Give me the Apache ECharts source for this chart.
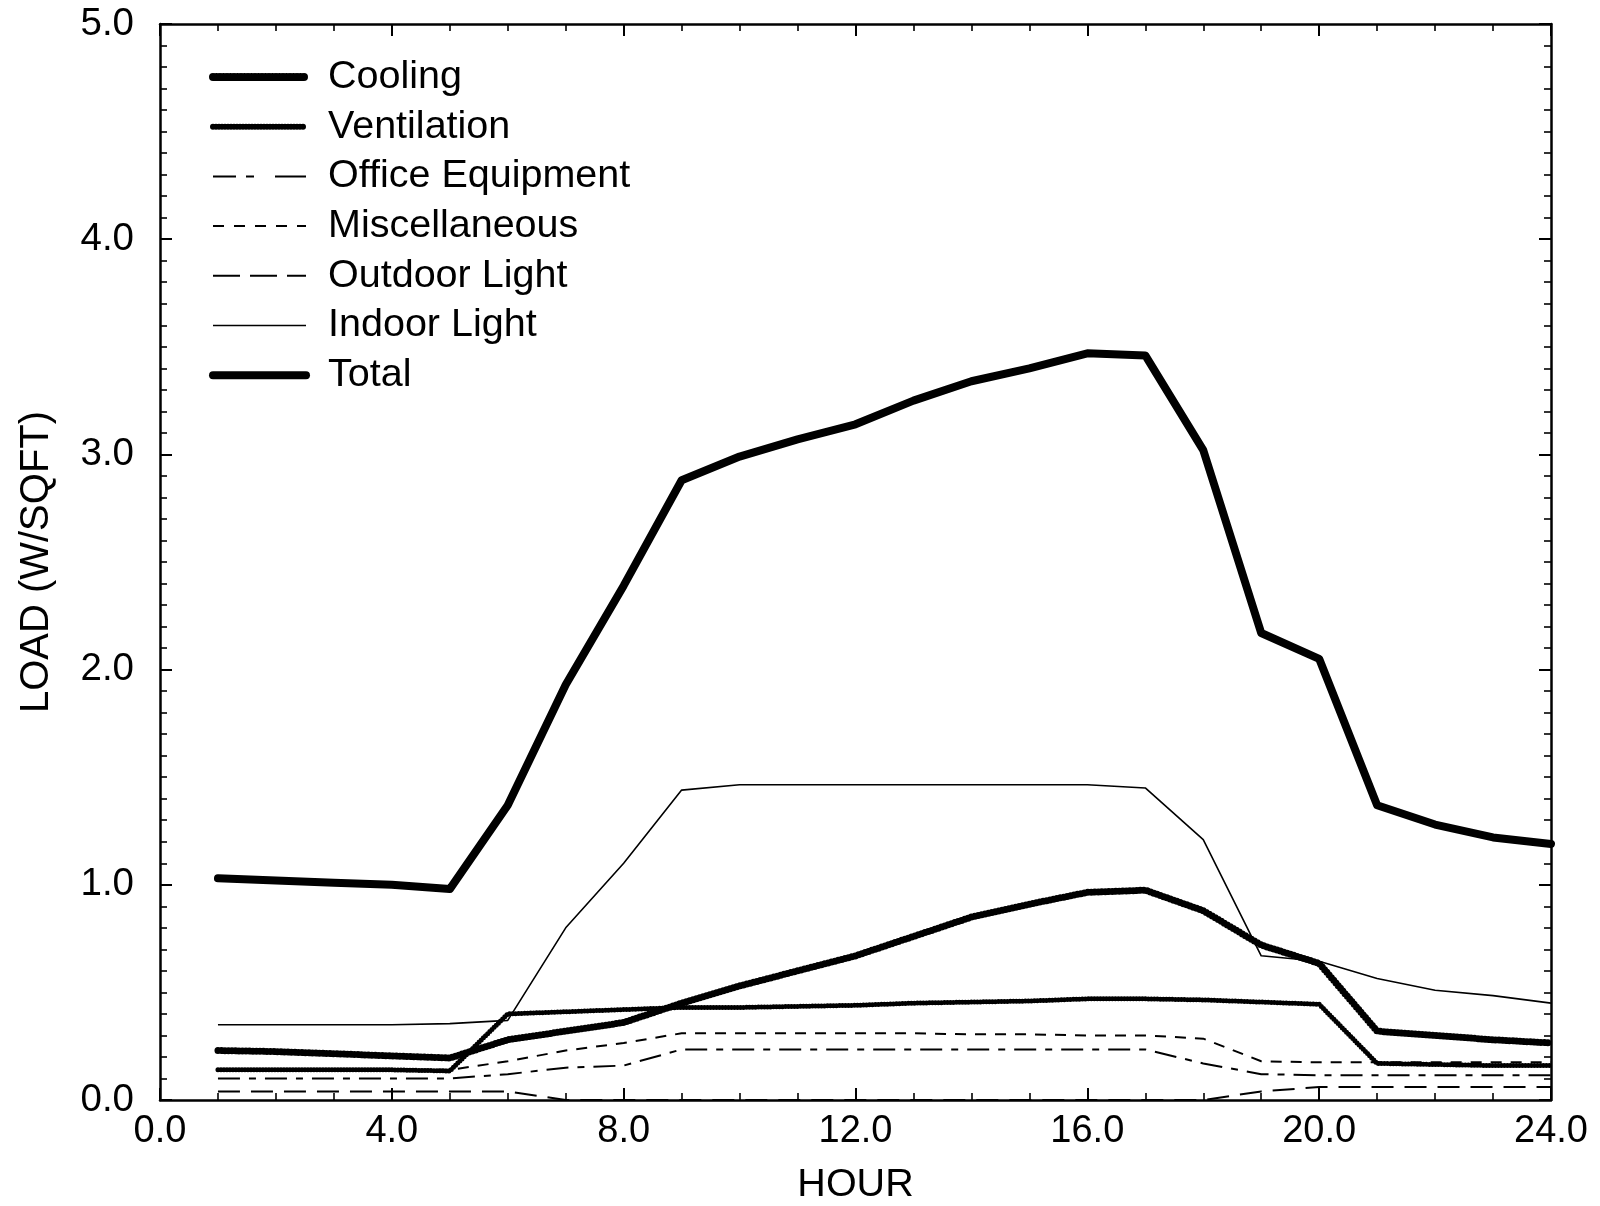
<!DOCTYPE html>
<html>
<head>
<meta charset="utf-8">
<script src="https://cdn.jsdelivr.net/npm/echarts@6/dist/echarts.min.js"></script>
<style>
html,body{margin:0;padding:0;background:#fff;}
#chart{width:1600px;height:1206px;}
</style>
</head>
<body>
<div id="chart"></div>
<script>
const hours = [1,2,3,4,5,6,7,8,9,10,11,12,13,14,15,16,17,18,19,20,21,22,23,24];
const seriesNames = ['Cooling','Ventilation','Office Equipment','Miscellaneous','Outdoor Light','Indoor Light','Total'];
const cooling      = [0.23,0.225,0.215,0.205,0.195,0.28,0.32,0.36,0.45,0.53,0.60,0.67,0.76,0.85,0.91,0.965,0.975,0.88,0.72,0.635,0.32,0.30,0.28,0.265];
const ventilation  = [0.14,0.14,0.14,0.14,0.135,0.40,0.41,0.42,0.43,0.43,0.435,0.44,0.45,0.455,0.46,0.47,0.47,0.465,0.455,0.445,0.17,0.165,0.16,0.16];
const officeEquip  = [0.10,0.10,0.10,0.10,0.10,0.12,0.15,0.16,0.235,0.235,0.235,0.235,0.235,0.235,0.235,0.235,0.235,0.17,0.12,0.115,0.115,0.115,0.115,0.115];
const misc         = [0.14,0.14,0.14,0.14,0.14,0.18,0.23,0.265,0.31,0.31,0.31,0.31,0.31,0.305,0.305,0.30,0.30,0.285,0.18,0.175,0.175,0.175,0.175,0.175];
const outdoorLight = [0.04,0.04,0.04,0.04,0.04,0.04,0.0,0.0,0.0,0.0,0.0,0.0,0.0,0.0,0.0,0.0,0.0,0.0,0.04,0.06,0.06,0.06,0.06,0.06];
const indoorLight  = [0.35,0.35,0.35,0.35,0.355,0.37,0.80,1.10,1.44,1.465,1.465,1.465,1.465,1.465,1.465,1.465,1.45,1.21,0.67,0.645,0.565,0.51,0.485,0.45];
const total        = [1.03,1.02,1.01,1.00,0.98,1.37,1.93,2.39,2.88,2.99,3.07,3.14,3.25,3.34,3.40,3.47,3.46,3.02,2.17,2.05,1.37,1.28,1.22,1.19];
const xTicks = ['0.0','4.0','8.0','12.0','16.0','20.0','24.0'];
const yTicks = ['0.0','1.0','2.0','3.0','4.0','5.0'];

const FONT = '"Liberation Sans", Arial, Helvetica, sans-serif';
const pair = arr => hours.map((h, i) => [h, arr[i]]);

const styles = {
  'Cooling':          {width: 7,   type: [0, 3.5], cap: 'round'},
  'Ventilation':      {width: 5,   type: [0, 3],   cap: 'round'},
  'Office Equipment': {width: 2,   type: [22, 9, 7, 9], cap: 'butt'},
  'Miscellaneous':    {width: 2,   type: [11, 9], cap: 'butt'},
  'Outdoor Light':    {width: 2,   type: [22, 11], cap: 'butt'},
  'Indoor Light':     {width: 1.6, type: 'solid', cap: 'butt'},
  'Total':            {width: 8,   type: 'solid', cap: 'round'}
};
const legendStyles = {
  'Cooling':          {width: 8,   type: [0, 3.5], cap: 'round'},
  'Ventilation':      {width: 6,   type: [0, 3],   cap: 'round'},
  'Office Equipment': {width: 2,   type: [23, 10, 8, 21, 31, 10], cap: 'butt'},
  'Miscellaneous':    {width: 2,   type: [11, 10], cap: 'butt'},
  'Outdoor Light':    {width: 2,   type: [27, 10], cap: 'butt'},
  'Indoor Light':     {width: 1.6, type: 'solid', cap: 'butt'},
  'Total':            {width: 8,   type: 'solid', cap: 'round'}
};
const dataArrays = [cooling, ventilation, officeEquip, misc, outdoorLight, indoorLight, total];

const axisCommon = {
  axisLine: {show: true, onZero: false, lineStyle: {color: '#000', width: 2.5}},
  axisTick: {show: true, inside: true, length: 12, lineStyle: {color: '#000', width: 2}},
  minorTick: {show: true, length: 7, lineStyle: {color: '#000', width: 1.6}},
  splitLine: {show: false}
};

const chart = echarts.init(document.getElementById('chart'), null, {renderer: 'canvas'});
chart.setOption({
  backgroundColor: '#fff',
  animation: false,
  grid: {left: 160, right: 49, top: 24, bottom: 106, containLabel: false, outerBoundsMode: 'none'},
  legend: {
    left: 204, top: 52, orient: 'vertical',
    itemWidth: 93, itemHeight: 20, itemGap: 9.7,
    data: seriesNames.map(n => ({
      name: n,
      itemStyle: {opacity: 0},
      lineStyle: Object.assign({color: '#000', opacity: 1}, legendStyles[n])
    })),
    itemStyle: {opacity: 0},
    textStyle: {fontFamily: FONT, fontSize: 39.5, color: '#000', lineHeight: 40, padding: [0, 0, 0, 17]},
    inactiveColor: '#000'
  },
  xAxis: [
    Object.assign({}, axisCommon, {
      type: 'value', position: 'bottom', min: 0, max: 24, interval: 4,
      minorTick: Object.assign({}, axisCommon.minorTick, {splitNumber: 4}),
      axisLabel: {show: true, margin: 13, fontFamily: FONT, fontSize: 38, color: '#000',
        formatter: v => xTicks[Math.round(v / 4)]},
      name: 'HOUR', nameLocation: 'middle', nameGap: 65,
      nameTextStyle: {fontFamily: FONT, fontSize: 39.5, color: '#000'}
    }),
    Object.assign({}, axisCommon, {
      type: 'value', position: 'top', min: 0, max: 24, interval: 4,
      minorTick: Object.assign({}, axisCommon.minorTick, {splitNumber: 4}),
      axisLabel: {show: false}
    })
  ],
  yAxis: [
    Object.assign({}, axisCommon, {
      type: 'value', position: 'left', min: 0, max: 5, interval: 1,
      minorTick: Object.assign({}, axisCommon.minorTick, {splitNumber: 10}),
      axisLabel: {show: true, margin: 26, fontFamily: FONT, fontSize: 38.5, color: '#000',
        formatter: v => yTicks[Math.round(v)]},
      name: 'LOAD (W/SQFT)', nameLocation: 'middle', nameGap: 103,
      nameTextStyle: {fontFamily: FONT, fontSize: 40, color: '#000'}
    }),
    Object.assign({}, axisCommon, {
      type: 'value', position: 'right', min: 0, max: 5, interval: 1,
      minorTick: Object.assign({}, axisCommon.minorTick, {splitNumber: 10}),
      axisLabel: {show: false}
    })
  ],
  series: seriesNames.map((name, i) => ({
    name: name,
    type: 'line',
    xAxisIndex: 0, yAxisIndex: 0,
    data: pair(dataArrays[i]),
    showSymbol: false, symbol: 'none',
    lineStyle: Object.assign({color: '#000', join: 'round'}, styles[name]),
    itemStyle: {color: '#000'},
    z: name === 'Total' ? 5 : 3
  }))
});
</script>
</body>
</html>
